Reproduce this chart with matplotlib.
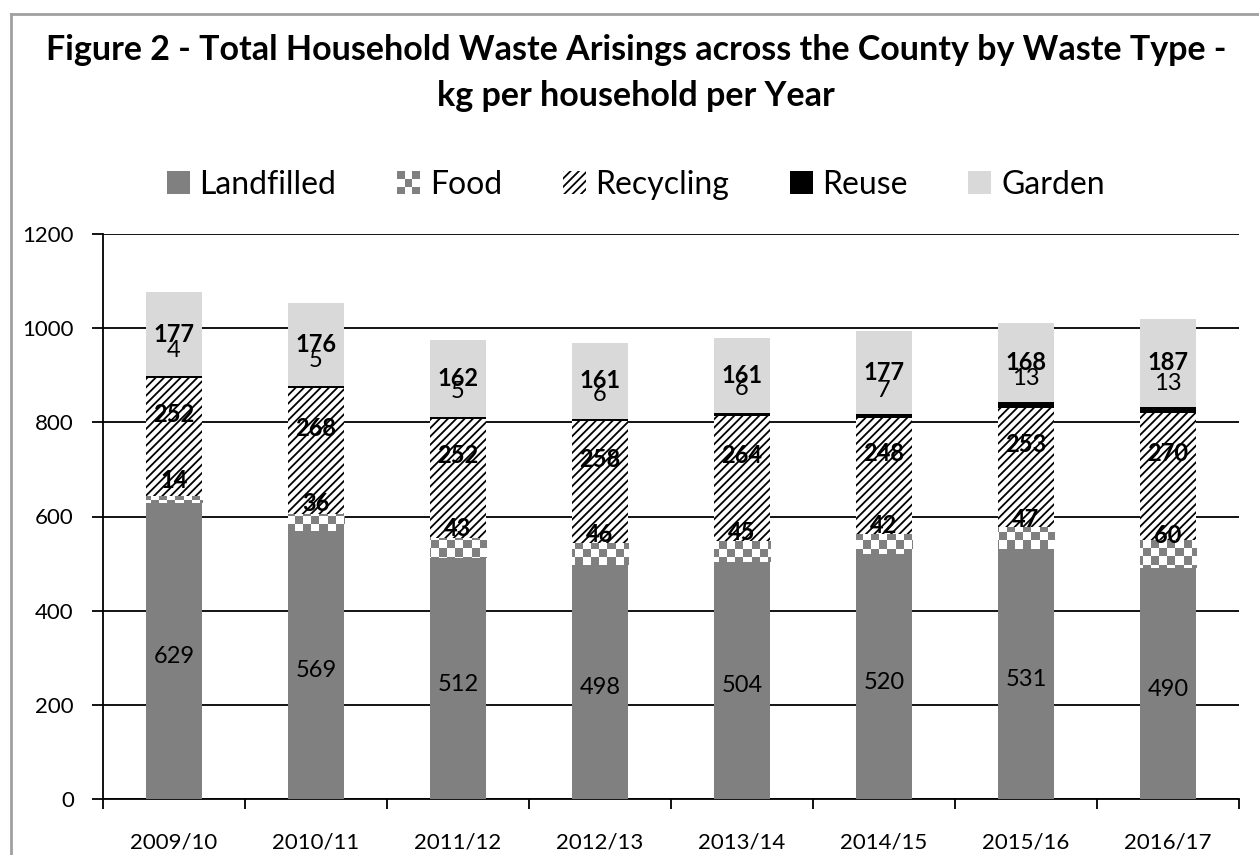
import numpy as np
import matplotlib
matplotlib.use('Agg')
import matplotlib.pyplot as plt
from matplotlib.colors import ListedColormap
from matplotlib.legend_handler import HandlerBase
from matplotlib.lines import Line2D
import matplotlib.patches as mpatches

# kg per household per year, by waste stream
years = ["2009/10", "2010/11", "2011/12", "2012/13",
         "2013/14", "2014/15", "2015/16", "2016/17"]
landfilled = [629, 569, 512, 498, 504, 520, 531, 490]
food       = [14, 36, 43, 46, 45, 42, 47, 60]
recycling  = [252, 268, 252, 258, 264, 248, 253, 270]
reuse      = [4, 5, 5, 6, 6, 7, 13, 13]
garden     = [177, 176, 162, 161, 161, 177, 168, 187]

series_names = ["Landfilled", "Food", "Recycling", "Reuse", "Garden"]
yticks = [0, 200, 400, 600, 800, 1000, 1200]

plt.rcParams['font.family'] = ['Lato', 'DejaVu Sans']
plt.rcParams['hatch.linewidth'] = 1.3

GREY = "#808080"
LIGHT = "#d9d9d9"
HATCH = "////"

fig = plt.figure(figsize=(12.59, 8.55), dpi=100)
ax = fig.add_axes([103/1259, 1 - 799/855, 1136/1259, 565/855])

x = np.arange(len(years))
w = 0.40
data = [landfilled, food, recycling, reuse, garden]
bottoms = np.zeros(len(years))
layers = []

bars_l = ax.bar(x, landfilled, w, bottom=bottoms, color=GREY, zorder=3)
layers.append(bottoms.copy()); bottoms += landfilled
bars_f = ax.bar(x, food, w, bottom=bottoms, color="white", zorder=3)
layers.append(bottoms.copy()); bottoms += food
bars_r = ax.bar(x, recycling, w, bottom=bottoms, color="white",
                edgecolor="black", linewidth=0, hatch=HATCH, zorder=3)
layers.append(bottoms.copy()); bottoms += recycling
bars_u = ax.bar(x, reuse, w, bottom=bottoms, color="black", zorder=3)
layers.append(bottoms.copy()); bottoms += reuse
bars_g = ax.bar(x, garden, w, bottom=bottoms, color=LIGHT, zorder=3)
layers.append(bottoms.copy()); bottoms += garden

# checkerboard texture for the food layer, clipped to each bar
cell = 8
ncols, nrows = 1136 // cell, 565 // cell
checker = np.indices((nrows, ncols)).sum(axis=0) % 2
cmap = ListedColormap(["white", GREY])
for b in bars_f:
    im = ax.imshow(checker, cmap=cmap, extent=(0, 1, 0, 1),
                   transform=ax.transAxes, aspect='auto',
                   interpolation='nearest', zorder=3.5)
    im.set_clip_path(b)

ax.set_xlim(-0.5, len(years) - 0.5)
ax.set_ylim(0, 1200)

# value labels (label offsets in kg)
offsets = [-12, 40, 48, 55, 0]
weights = ["normal", "bold", "bold", "normal", "bold"]
for vals, base, off, wt in zip(data, layers, offsets, weights):
    for i, v in enumerate(vals):
        ax.text(x[i], base[i] + v / 2 + off, str(v), ha='center',
                va='center', fontsize=17, fontweight=wt, zorder=5)

# axes styling
ax.set_yticks(yticks)
ax.yaxis.grid(True, color="black", linewidth=1.3)
ax.set_axisbelow(True)
for s in ["top", "right"]:
    ax.spines[s].set_visible(False)
ax.spines["left"].set_linewidth(1.3)
ax.spines["bottom"].set_linewidth(1.3)
ax.set_xticks(x)
ax.set_xticklabels(years)
ax.set_xticks(np.arange(-0.5, len(years)), minor=True)
ax.tick_params(axis='x', which='major', length=0, pad=24, labelsize=16)
ax.tick_params(axis='x', which='minor', length=7, width=1.3, direction='out')
ax.tick_params(axis='y', length=8, width=1.3, pad=13, labelsize=16)


class CheckerHandler(HandlerBase):
    def create_artists(self, legend, orig_handle, xdescent, ydescent,
                       width, height, fontsize, trans):
        arts = []
        cw, ch = width / 3, height / 3
        for r in range(3):
            for c in range(3):
                col = GREY if (r + c) % 2 == 0 else "white"
                arts.append(mpatches.Rectangle((-xdescent + c * cw, -ydescent + r * ch),
                                               cw, ch, facecolor=col, edgecolor='none',
                                               transform=trans))
        return arts


handles = [
    mpatches.Patch(facecolor=GREY),
    mpatches.Patch(facecolor="white"),
    mpatches.Patch(facecolor="white", edgecolor="black", linewidth=0, hatch=HATCH),
    mpatches.Patch(facecolor="black"),
    mpatches.Patch(facecolor=LIGHT),
]
fig.legend(handles, series_names, loc='center', bbox_to_anchor=(0.505, 1 - 185/855),
           ncol=5, frameon=False, fontsize=23, handlelength=0.72, handleheight=0.72,
           handletextpad=0.3, columnspacing=1.9,
           handler_map={handles[1]: CheckerHandler()})

fig.text(0.505, 1 - 50/855,
         "Figure 2 - Total Household Waste Arisings across the County by Waste Type -",
         ha='center', va='center', fontsize=24.5, fontweight='bold')
fig.text(0.505, 1 - 96/855, "kg per household per Year",
         ha='center', va='center', fontsize=24.5, fontweight='bold')

# outer chart frame
fig.add_artist(Line2D([11/1259, 11/1259], [0, 1 - 14/855], color="#a0a0a0", lw=2,
                      transform=fig.transFigure))
fig.add_artist(Line2D([11/1259, 1], [1 - 14/855, 1 - 14/855], color="#a0a0a0", lw=2,
                      transform=fig.transFigure))

fig.savefig("out.png", dpi=100)
